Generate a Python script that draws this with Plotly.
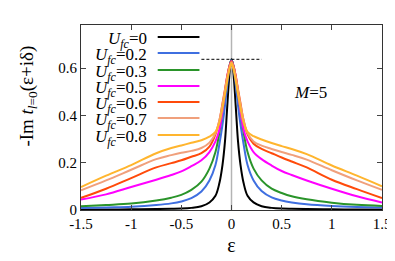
import plotly.graph_objects as go

x = [-1.5, -1.25, -1.0, -0.75, -0.6, -0.5, -0.4, -0.3, -0.22, -0.16, -0.12, -0.09, -0.065, -0.045, -0.025, -0.01,
     0.0,
     0.01, 0.025, 0.045, 0.065, 0.09, 0.12, 0.16, 0.22, 0.3, 0.4, 0.5, 0.6, 0.75, 1.0, 1.25, 1.5]

u00 = [0.002, 0.002, 0.003, 0.004, 0.005, 0.006, 0.009, 0.016, 0.032, 0.06, 0.115, 0.19, 0.29, 0.42, 0.55, 0.62,
       0.637,
       0.62, 0.55, 0.42, 0.29, 0.19, 0.115, 0.06, 0.032, 0.016, 0.009, 0.006, 0.005, 0.004, 0.003, 0.002, 0.002]
u02 = [0.008, 0.011, 0.014, 0.021, 0.028, 0.036, 0.05, 0.078, 0.125, 0.19, 0.28, 0.36, 0.44, 0.52, 0.59, 0.625,
       0.635,
       0.625, 0.59, 0.52, 0.44, 0.36, 0.28, 0.19, 0.125, 0.08, 0.053, 0.04, 0.032, 0.024, 0.017, 0.013, 0.011]
u03 = [0.016, 0.021, 0.027, 0.04, 0.052, 0.064, 0.085, 0.12, 0.175, 0.245, 0.33, 0.42, 0.49, 0.55, 0.60, 0.625,
       0.632,
       0.625, 0.60, 0.55, 0.49, 0.42, 0.33, 0.245, 0.175, 0.125, 0.09, 0.072, 0.058, 0.045, 0.031, 0.022, 0.017]
u05 = [0.044, 0.066, 0.097, 0.128, 0.148, 0.163, 0.185, 0.21, 0.245, 0.29, 0.34, 0.42, 0.5, 0.56, 0.60, 0.622,
       0.630,
       0.622, 0.60, 0.56, 0.5, 0.42, 0.34, 0.29, 0.245, 0.215, 0.188, 0.165, 0.148, 0.125, 0.09, 0.058, 0.032]
u06 = [0.051, 0.09, 0.135, 0.18, 0.198, 0.21, 0.225, 0.24, 0.268, 0.32, 0.38, 0.45, 0.51, 0.56, 0.6, 0.62,
       0.628,
       0.62, 0.6, 0.56, 0.51, 0.45, 0.38, 0.32, 0.28, 0.258, 0.24, 0.222, 0.205, 0.18, 0.128, 0.088, 0.05]
u07 = [0.083, 0.125, 0.17, 0.215, 0.232, 0.242, 0.25, 0.262, 0.285, 0.325, 0.38, 0.445, 0.505, 0.555, 0.595, 0.617,
       0.625,
       0.617, 0.595, 0.555, 0.505, 0.445, 0.38, 0.325, 0.29, 0.272, 0.258, 0.245, 0.233, 0.213, 0.168, 0.125, 0.085]
u08 = [0.097, 0.145, 0.19, 0.24, 0.262, 0.273, 0.284, 0.295, 0.31, 0.33, 0.37, 0.43, 0.49, 0.54, 0.585, 0.61,
       0.620,
       0.61, 0.585, 0.54, 0.49, 0.43, 0.37, 0.33, 0.312, 0.298, 0.283, 0.27, 0.258, 0.236, 0.188, 0.145, 0.1]

series = [("0", u00, "#000000"), ("0.2", u02, "#3f6fe0"), ("0.3", u03, "#2a942a"),
          ("0.5", u05, "#ff00ff"), ("0.6", u06, "#ff4a0a"), ("0.7", u07, "#f0a07c"),
          ("0.8", u08, "#ffb52e")]

peak_level = 0.637
dash_x = [-0.3, 0.3]

x_ticks = [-1.5, -1, -0.5, 0, 0.5, 1, 1.5]
x_tick_text = ["-1.5", "-1", "-0.5", "0", "0.5", "1", "1.5"]
y_ticks = [0, 0.2, 0.4, 0.6]
y_tick_text = ["0", "0.2", "0.4", "0.6"]

FONT = "Liberation Serif"

fig = go.Figure()

fig.add_shape(type="line", xref="x", yref="paper", x0=0, x1=0, y0=0, y1=1,
              line=dict(color="#b4b4b4", width=1.5), layer="below")

for name, ys, col in series:
    fig.add_trace(go.Scatter(x=x, y=ys, mode="lines",
                             line=dict(color=col, width=2, shape="spline", smoothing=1.0),
                             showlegend=False, name=name))

fig.add_trace(go.Scatter(x=dash_x, y=[peak_level, peak_level], mode="lines",
                         line=dict(color="black", width=1, dash="3px,2px"), showlegend=False))

top, bottom, left, right = 17, 202, 73, 383
W = right - left
H = bottom - top

# legend (text right-aligned, sample line to the right)
leg_y_px = [29, 45, 62, 78, 94, 110, 127]
for (name, ys, col), py in zip(series, leg_y_px):
    yp = (bottom - py) / H
    fig.add_annotation(xref="paper", yref="paper", x=(143 - left) / W, y=(bottom - py - 3) / H,
                       xanchor="right", yanchor="middle", showarrow=False,
                       text="<i>U</i><sub><i>fc</i></sub>=" + name,
                       font=dict(family=FONT, size=17, color="black"))
    fig.add_shape(type="line", xref="paper", yref="paper",
                  x0=(152 - left) / W, x1=(195 - left) / W, y0=yp, y1=yp,
                  line=dict(color=col, width=2))

fig.add_annotation(x=0.79, y=0.496, xref="x", yref="y", showarrow=False,
                   text="<i>M</i>=5", font=dict(family=FONT, size=17, color="black"))

# y-axis title
fig.add_annotation(xref="paper", yref="paper", x=(18 - left) / W, y=(bottom - 88) / H,
                   xanchor="center", yanchor="middle", textangle=-90, showarrow=False,
                   text="-Im <i>t</i><sub><i>l</i>=0</sub>(ε+iδ)",
                   font=dict(family=FONT, size=19, color="black"))

fig.update_layout(
    width=395, height=261,
    margin=dict(l=left, r=395 - right, t=top, b=261 - bottom),
    paper_bgcolor="white", plot_bgcolor="white",
    font=dict(family=FONT, size=15, color="black"),
    xaxis=dict(range=[-1.5, 1.5], tickvals=x_ticks, ticktext=x_tick_text, ticks="inside", ticklen=5,
               showgrid=False, zeroline=False, showline=True, linecolor="#333333", linewidth=1, mirror="ticks",
               tickfont=dict(family=FONT, size=15),
               title=dict(text="ε", font=dict(family=FONT, size=20), standoff=6)),
    yaxis=dict(range=[0, 0.782], tickvals=y_ticks, ticktext=y_tick_text, ticks="inside", ticklen=5,
               showgrid=False, zeroline=False, showline=True, linecolor="#333333", linewidth=1, mirror="ticks",
               tickfont=dict(family=FONT, size=15)),
)

fig.write_html("out.html")
